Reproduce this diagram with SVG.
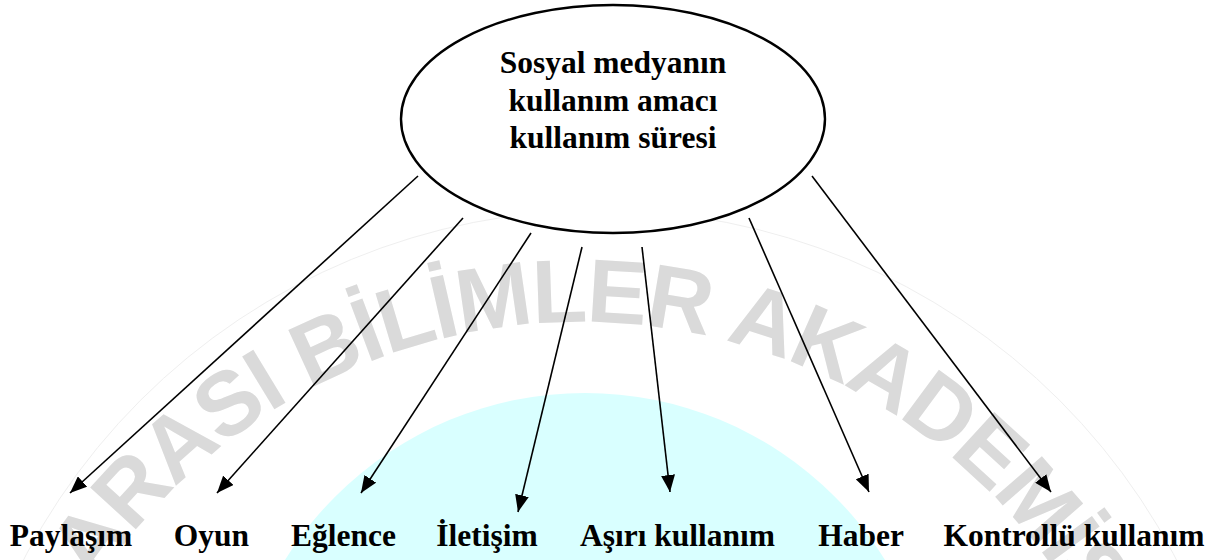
<svg xmlns="http://www.w3.org/2000/svg" width="1222" height="560" viewBox="0 0 1222 560">
  <style>
    .lbl { font-family: "Liberation Serif", "Times New Roman", serif; font-weight: bold; font-size: 31.5px; fill: #000; text-anchor: middle; }
    .conn { stroke: #000; stroke-width: 1.6; fill: none; marker-end: url(#arrow); }
    .wm { font-family: "Liberation Sans", Arial, sans-serif; font-weight: bold; font-size: 90px; fill: #dadada; }
  </style>
  <defs>
    <marker id="arrow" viewBox="0 0 17 14" refX="17" refY="7" markerWidth="17" markerHeight="14" markerUnits="userSpaceOnUse" orient="auto">
      <path d="M0,0 L17,7 L0,14 z" fill="#000"/>
    </marker>
    <path id="wmArc" d="M 10.8,799.6 A 578 578 0 0 1 1149.2,799.6"/>
  </defs>
  <rect x="0" y="0" width="1222" height="560" fill="#fff"/>
  <g id="watermark">
    <circle cx="585" cy="746" r="353" fill="#d9ffff"/>
    <circle cx="600" cy="860" r="650" fill="none" stroke="#efefef" stroke-width="1"/>
    <text class="wm"><textPath href="#wmArc" startOffset="232" textLength="1210" lengthAdjust="spacing">ARASI BİLİMLER AKADEMİSİ</textPath></text>
  </g>
  <g id="connectors">
    <line class="conn" x1="418" y1="176" x2="70" y2="493"/>
    <line class="conn" x1="463" y1="218" x2="217" y2="493"/>
    <line class="conn" x1="531" y1="233" x2="361" y2="493"/>
    <line class="conn" x1="582" y1="247" x2="518" y2="512"/>
    <line class="conn" x1="642" y1="247" x2="670" y2="492"/>
    <line class="conn" x1="749" y1="218" x2="869" y2="492"/>
    <line class="conn" x1="812" y1="176" x2="1051" y2="492"/>
  </g>
  <g id="center">
    <ellipse cx="613" cy="119" rx="212" ry="114" fill="#fff" stroke="#000" stroke-width="2.4"/>
    <text class="lbl" x="613" y="73">Sosyal medyanın</text>
    <text class="lbl" x="613" y="111">kullanım amacı</text>
    <text class="lbl" x="613" y="148">kullanım süresi</text>
  </g>
  <g id="n-paylasim"><text class="lbl" x="71" y="546">Paylaşım</text></g>
  <g id="n-oyun"><text class="lbl" x="211.5" y="546">Oyun</text></g>
  <g id="n-eglence"><text class="lbl" x="343.5" y="546">Eğlence</text></g>
  <g id="n-iletisim"><text class="lbl" x="487" y="546">İletişim</text></g>
  <g id="n-asiri"><text class="lbl" x="677.5" y="546">Aşırı kullanım</text></g>
  <g id="n-haber"><text class="lbl" x="861" y="546">Haber</text></g>
  <g id="n-kontrollu"><text class="lbl" x="1074" y="546">Kontrollü kullanım</text></g>
</svg>
